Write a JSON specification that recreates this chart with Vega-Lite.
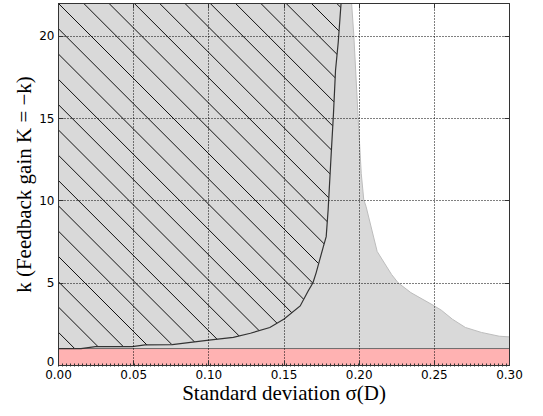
{
  "$schema": "https://vega.github.io/schema/vega-lite/v6.json",
  "width": 451,
  "height": 362,
  "autosize": {"type": "none"},
  "padding": {"left": 58, "top": 3, "right": 34, "bottom": 51},
  "background": "white",
  "config": {
    "view": {"stroke": null},
    "axis": {
      "labelFont": "DejaVu Sans",
      "labelFontSize": 12,
      "labelColor": "#000",
      "titleFont": "Liberation Serif",
      "titleFontSize": 21,
      "titleFontWeight": "normal",
      "titleColor": "#000",
      "domainColor": "#333",
      "domainWidth": 1,
      "tickColor": "#333",
      "tickSize": -5,
      "gridColor": "#000",
      "gridDash": [1, 2],
      "gridOpacity": 1,
      "gridWidth": 1
    }
  },
  "datasets": {
    "grayb": [
      {"x": 0, "y": 22}, {"x": 0.1953, "y": 22}, {"x": 0.1968, "y": 20}, {"x": 0.1996, "y": 15.1},
      {"x": 0.2017, "y": 11.65}, {"x": 0.2034, "y": 10.04}, {"x": 0.2049, "y": 9.64}, {"x": 0.2123, "y": 6.9},
      {"x": 0.2219, "y": 5.5}, {"x": 0.2262, "y": 5.0}, {"x": 0.2347, "y": 4.4}, {"x": 0.2496, "y": 3.63},
      {"x": 0.255, "y": 3.33}, {"x": 0.2624, "y": 2.78}, {"x": 0.271, "y": 2.28}, {"x": 0.2816, "y": 1.98},
      {"x": 0.2935, "y": 1.75}, {"x": 0.3, "y": 1.71}
    ],
    "whiteb": [
      {"x": 0.1953, "y": 22}, {"x": 0.1968, "y": 20}, {"x": 0.1996, "y": 15.1},
      {"x": 0.2017, "y": 11.65}, {"x": 0.2034, "y": 10.04}, {"x": 0.2049, "y": 9.64}, {"x": 0.2123, "y": 6.9},
      {"x": 0.2219, "y": 5.5}, {"x": 0.2262, "y": 5.0}, {"x": 0.2347, "y": 4.4}, {"x": 0.2496, "y": 3.63},
      {"x": 0.255, "y": 3.33}, {"x": 0.2624, "y": 2.78}, {"x": 0.271, "y": 2.28}, {"x": 0.2816, "y": 1.98},
      {"x": 0.2935, "y": 1.75}, {"x": 0.3, "y": 1.71}
    ],
    "curve": [
      {"x": 0, "y": 1.0}, {"x": 0.0153, "y": 1.0}, {"x": 0.0249, "y": 1.12}, {"x": 0.0494, "y": 1.12},
      {"x": 0.0579, "y": 1.22}, {"x": 0.076, "y": 1.24}, {"x": 0.1004, "y": 1.51}, {"x": 0.1166, "y": 1.68},
      {"x": 0.128, "y": 1.93}, {"x": 0.1409, "y": 2.28}, {"x": 0.1504, "y": 2.8}, {"x": 0.1611, "y": 3.59},
      {"x": 0.1664, "y": 4.5}, {"x": 0.1696, "y": 5.0}, {"x": 0.1717, "y": 5.6}, {"x": 0.1738, "y": 6.3},
      {"x": 0.1766, "y": 7.22}, {"x": 0.1784, "y": 7.8}, {"x": 0.1797, "y": 9.44}, {"x": 0.1815, "y": 12.46},
      {"x": 0.1832, "y": 15.2}, {"x": 0.1846, "y": 17.9}, {"x": 0.1864, "y": 19.6}, {"x": 0.1883, "y": 22}
    ],
    "mask": [
      {"x": 0, "y": 1.0}, {"x": 0.0153, "y": 1.0}, {"x": 0.0249, "y": 1.12}, {"x": 0.0494, "y": 1.12},
      {"x": 0.0579, "y": 1.22}, {"x": 0.076, "y": 1.24}, {"x": 0.1004, "y": 1.51}, {"x": 0.1166, "y": 1.68},
      {"x": 0.128, "y": 1.93}, {"x": 0.1409, "y": 2.28}, {"x": 0.1504, "y": 2.8}, {"x": 0.1611, "y": 3.59},
      {"x": 0.1664, "y": 4.5}, {"x": 0.1696, "y": 5.0}, {"x": 0.1717, "y": 5.6}, {"x": 0.1738, "y": 6.3},
      {"x": 0.1766, "y": 7.22}, {"x": 0.1784, "y": 7.8}, {"x": 0.1797, "y": 9.44}, {"x": 0.1815, "y": 12.46},
      {"x": 0.1832, "y": 15.2}, {"x": 0.1846, "y": 17.9}, {"x": 0.1864, "y": 19.6}, {"x": 0.1883, "y": 22},
      {"x": 0.3, "y": 22}
    ],
    "hatch": [
      {"x1": -0.23561, "x2": 0.00519}, {"x1": -0.21878, "x2": 0.02202}, {"x1": -0.20195, "x2": 0.03885},
      {"x1": -0.18512, "x2": 0.05568}, {"x1": -0.16829, "x2": 0.07251}, {"x1": -0.15146, "x2": 0.08934},
      {"x1": -0.13463, "x2": 0.10617}, {"x1": -0.11781, "x2": 0.12299}, {"x1": -0.10098, "x2": 0.13982},
      {"x1": -0.08415, "x2": 0.15665}, {"x1": -0.06732, "x2": 0.17348}, {"x1": -0.05049, "x2": 0.19031},
      {"x1": -0.03366, "x2": 0.20714}, {"x1": -0.01683, "x2": 0.22397}, {"x1": 0.0, "x2": 0.2408},
      {"x1": 0.01683, "x2": 0.25763}, {"x1": 0.03366, "x2": 0.27446}, {"x1": 0.05049, "x2": 0.29129},
      {"x1": 0.06732, "x2": 0.30812}, {"x1": 0.08415, "x2": 0.32495}, {"x1": 0.10098, "x2": 0.34178},
      {"x1": 0.11781, "x2": 0.35861}, {"x1": 0.13463, "x2": 0.37543}, {"x1": 0.15146, "x2": 0.39226},
      {"x1": 0.16829, "x2": 0.40909}, {"x1": 0.18512, "x2": 0.42592}
    ]
  },
  "layer": [
    {
      "data": {"name": "grayb"},
      "mark": {"type": "area", "fill": "#d9d9d9", "stroke": null},
      "encoding": {
        "x": {"field": "x", "type": "quantitative", "scale": {"domain": [0, 0.3], "nice": false, "zero": false},
          "axis": {"orient": "bottom", "zindex": 1, "values": [0, 0.05, 0.1, 0.15, 0.2, 0.25, 0.3], "format": ".2f", "labelFlush": false,
            "labelPadding": 9, "grid": true, "title": "Standard deviation σ(D)", "titleX": 225.5, "titleY": 34,
            "titleBaseline": "alphabetic", "titleAlign": "center", "titleAnchor": null}},
        "y": {"field": "y", "type": "quantitative", "scale": {"domain": [0, 22], "nice": false, "zero": false},
          "axis": {"orient": "left", "zindex": 1, "values": [0, 5, 10, 15, 20], "labelPadding": 9,
            "labelOffset": {"condition": {"test": "datum.value === 0", "value": -4}, "value": 0}, "grid": true,
            "title": "k (Feedback gain K = −k)", "titleX": -28, "titleY": 181, "titleAngle": 270,
            "titleBaseline": "alphabetic", "titleAlign": "center", "titleAnchor": null}},
        "y2": {"datum": 0}
      }
    },
    {
      "data": {"name": "hatch"},
      "mark": {"type": "rule", "clip": true, "stroke": "#111", "strokeWidth": 1},
      "encoding": {
        "x": {"field": "x1", "type": "quantitative", "scale": {"domain": [0, 0.3]}, "axis": null},
        "x2": {"field": "x2"},
        "y": {"datum": 22, "type": "quantitative", "scale": {"domain": [0, 22]}, "axis": null},
        "y2": {"datum": 0}
      }
    },
    {
      "data": {"name": "mask"},
      "mark": {"type": "area", "fill": "#d9d9d9", "stroke": null},
      "encoding": {
        "x": {"field": "x", "type": "quantitative", "scale": {"domain": [0, 0.3]}, "axis": null},
        "y": {"field": "y", "type": "quantitative", "scale": {"domain": [0, 22]}, "axis": null},
        "y2": {"datum": 0}
      }
    },
    {
      "data": {"name": "whiteb"},
      "mark": {"type": "area", "fill": "white", "stroke": null},
      "encoding": {
        "x": {"field": "x", "type": "quantitative", "scale": {"domain": [0, 0.3]}, "axis": null},
        "y": {"field": "y", "type": "quantitative", "scale": {"domain": [0, 22]}, "axis": null},
        "y2": {"datum": 22}
      }
    },
    {
      "data": {"name": "whiteb"},
      "mark": {"type": "line", "stroke": "#bdbdbd", "strokeWidth": 1},
      "encoding": {
        "x": {"field": "x", "type": "quantitative", "scale": {"domain": [0, 0.3]}, "axis": null},
        "y": {"field": "y", "type": "quantitative", "scale": {"domain": [0, 22]}, "axis": null}
      }
    },
    {
      "data": {"values": [{"lo": 0, "hi": 1}]},
      "mark": {"type": "rect", "fill": "#ffb2b2"},
      "encoding": {
        "x": {"datum": 0, "type": "quantitative", "scale": {"domain": [0, 0.3]}, "axis": null},
        "x2": {"datum": 0.3},
        "y": {"field": "lo", "type": "quantitative", "scale": {"domain": [0, 22]}, "axis": null},
        "y2": {"field": "hi"}
      }
    },
    {
      "data": {"values": [{"lo": 0, "hi": 1}]},
      "mark": {"type": "rule", "stroke": "#6e6e6e", "strokeWidth": 1},
      "encoding": {
        "x": {"datum": 0, "type": "quantitative", "scale": {"domain": [0, 0.3]}, "axis": null},
        "x2": {"datum": 0.3},
        "y": {"field": "hi", "type": "quantitative", "scale": {"domain": [0, 22]}, "axis": null}
      }
    },
    {
      "data": {"values": [{"lo": 0, "hi": 1}]},
      "mark": {"type": "rule", "stroke": "#333", "strokeWidth": 3, "strokeDash": [1, 3]},
      "encoding": {
        "x": {"datum": 0, "type": "quantitative", "scale": {"domain": [0, 0.3]}, "axis": null},
        "x2": {"datum": 0.3},
        "y": {"field": "lo", "type": "quantitative", "scale": {"domain": [0, 22]}, "axis": null}
      }
    },
    {
      "data": {"name": "curve"},
      "mark": {"type": "line", "stroke": "#333", "strokeWidth": 1.2},
      "encoding": {
        "x": {"field": "x", "type": "quantitative", "scale": {"domain": [0, 0.3]},
          "axis": {"orient": "top", "zindex": 1, "values": [0, 0.05, 0.1, 0.15, 0.2, 0.25, 0.3], "labels": false, "grid": false, "title": null}},
        "y": {"field": "y", "type": "quantitative", "scale": {"domain": [0, 22]},
          "axis": {"orient": "right", "zindex": 1, "values": [0, 5, 10, 15, 20], "labels": false, "grid": false, "title": null}}
      }
    }
  ],
  "resolve": {"axis": {"x": "independent", "y": "independent"}}
}
